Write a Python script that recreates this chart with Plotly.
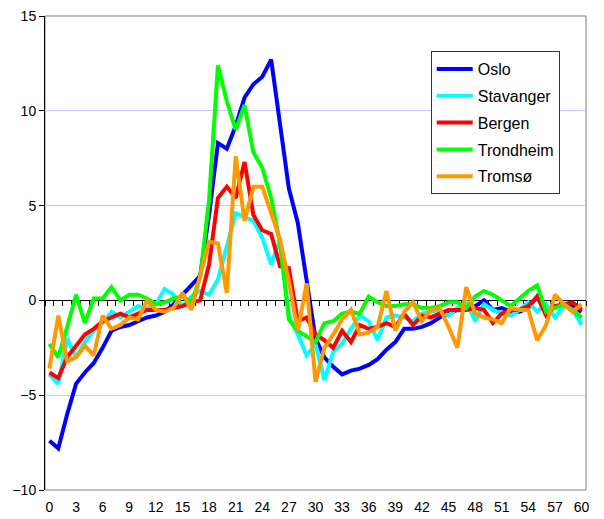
import plotly.graph_objects as go

x_vals = list(range(0, 61))
x_tick_labels = [str(v) for v in range(0, 61, 3)]
y_tick_vals = [-10, -5, 0, 5, 10, 15]

oslo = [-7.4, -7.8, -6.0, -4.4, -3.8, -3.3, -2.5, -1.6, -1.4, -1.3,
        -1.1, -0.9, -0.8, -0.6, -0.2, 0.3, 0.8, 1.3, 4.5, 8.3,
        8.0, 9.2, 10.7, 11.4, 11.8, 12.7, 9.3, 5.9, 4.1, 0.9,
        -2.0, -3.0, -3.5, -3.9, -3.7, -3.6, -3.4, -3.1, -2.6, -2.2,
        -1.5, -1.5, -1.4, -1.2, -0.9, -0.7, -0.5, -0.3, -0.3, 0.0,
        -0.5, -0.4, -0.6, -0.6, -0.4, 0.2, -0.6, -0.3, -0.3, -0.3, -0.6]

stavanger = [-3.9, -4.4, -2.0, -3.0, -2.2, -1.6, -1.2, -0.6, -0.9, -0.6,
             -0.3, -0.4, -0.2, 0.6, 0.3, -0.3, 0.2, 0.5, 0.3, 1.1,
             2.8, 4.6, 4.4, 4.2, 3.3, 1.9, 3.2, -0.8, -1.8, -2.9,
             -2.3, -4.2, -2.7, -2.3, -1.5, -0.8, -1.1, -2.1, -0.9, -0.8,
             -0.9, -1.1, -0.7, -0.6, -0.5, -0.8, -0.4, -0.1, -1.1, -0.2,
             -0.5, -0.7, -0.8, -0.5, -0.1, -0.6, -0.2, -0.9, -0.3, -0.5, -1.3]

bergen = [-3.8, -4.1, -3.0, -2.4, -1.8, -1.5, -1.1, -0.9, -0.7, -0.9,
          -0.7, -0.5, -0.5, -0.5, -0.4, -0.3, -0.1, 0.0, 1.9, 5.4,
          6.0, 5.4, 7.3, 4.5, 3.7, 3.5, 1.8, 1.7, -1.1, -0.9,
          -1.8, -2.1, -2.5, -1.6, -2.2, -1.3, -1.5, -1.4, -1.2, -1.4,
          -0.7, -1.3, -0.8, -0.9, -0.7, -0.5, -0.5, -0.5, -0.4, -0.5,
          -1.2, -0.7, -0.5, -0.5, -0.3, 0.2, -0.8, -0.3, -0.2, -0.1, -0.5]

trondheim = [-2.3, -3.0, -1.4, 0.3, -1.2, 0.1, 0.1, 0.7, 0.0, 0.3,
             0.3, 0.1, -0.2, -0.1, 0.1, 0.2, -0.1, 1.2, 5.3, 12.4,
             10.5, 9.0, 10.3, 7.8, 7.0, 5.4, 3.0, -1.0, -1.6, -1.9,
             -2.2, -1.2, -1.1, -0.7, -0.6, -0.7, 0.2, -0.1, -0.3, -0.3,
             -0.2, -0.2, -0.4, -0.4, -0.3, -0.1, -0.1, -0.4, 0.2, 0.5,
             0.3, 0.0, -0.3, 0.1, 0.5, 0.8, -0.6, -0.4, -0.2, -0.5, -0.9]

tromso = [-3.6, -0.8, -3.2, -3.0, -2.4, -2.9, -0.8, -1.5, -1.3, -0.9,
          -1.0, 0.0, -0.5, -0.6, -0.4, 0.4, -0.5, 1.3, 3.1, 3.0,
          0.4, 7.6, 4.2, 6.0, 6.0, 4.6, 3.2, 1.0, -1.6, 0.9,
          -4.3, -2.5, -1.8, -1.0, -0.5, -1.8, -1.7, -1.4, 0.5, -1.6,
          -0.6, -0.1, -1.1, -0.5, -0.4, -1.4, -2.5, 0.7, -0.7, -0.9,
          -1.0, -1.2, -0.4, -0.5, -0.5, -2.1, -1.3, 0.3, -0.2, -0.6, -0.2]

series_names = ["Oslo", "Stavanger", "Bergen", "Trondheim", "Tromsø"]
series_values = [oslo, stavanger, bergen, trondheim, tromso]
series_colors = ["#0000FF", "#00FFFF", "#FF0000", "#00FF00", "#FF9900"]

FONT = "Arial, 'Liberation Sans', sans-serif"

fig = go.Figure()
for name, vals, col in zip(series_names, series_values, series_colors):
    fig.add_trace(go.Scatter(
        x=x_vals, y=vals, mode="lines", name=name,
        line=dict(color=col, width=4),
        legendgroup=name,
    ))

# dummy trace to activate the zero-line category axis
fig.add_trace(go.Scatter(x=[None], y=[None], xaxis="x2", yaxis="y",
                         showlegend=False, hoverinfo="skip"))

boundaries = [k + 0.5 for k in range(-1, 61)]

fig.update_layout(
    width=604, height=519,
    margin=dict(l=45, r=18, t=16, b=29, autoexpand=False),
    paper_bgcolor="white", plot_bgcolor="white",
    font=dict(family=FONT, size=14, color="black"),
    showlegend=True,
    legend=dict(
        x=0.713, y=0.926, xanchor="left", yanchor="top",
        bgcolor="white", bordercolor="#333333", borderwidth=1,
        font=dict(family=FONT, size=16, color="black"),
        tracegroupgap=3, itemwidth=36,
    ),
    xaxis=dict(
        range=[-0.5, 60.5],
        tickvals=list(range(0, 61, 3)),
        ticktext=x_tick_labels,
        showgrid=False, zeroline=False, showline=False,
        ticks="", ticklabelstandoff=7,
        tickfont=dict(family=FONT, size=14),
        automargin=False,
    ),
    xaxis2=dict(
        overlaying="x", anchor="free", position=0.4, side="bottom",
        range=[-0.5, 60.5],
        tickvals=boundaries,
        showticklabels=False,
        ticks="outside", ticklen=5, tickcolor="black", tickwidth=1,
        showline=True, linecolor="black", linewidth=1,
        showgrid=False, zeroline=False,
        layer="below traces", automargin=False,
    ),
    yaxis=dict(
        range=[-10, 15],
        tickvals=y_tick_vals,
        showgrid=True, gridcolor="#c8c8f8", gridwidth=1,
        zeroline=False,
        showline=True, linecolor="black", linewidth=1,
        ticks="outside", ticklen=5, tickcolor="black",
        tickfont=dict(family=FONT, size=14),
        layer="below traces", automargin=False,
    ),
    shapes=[dict(type="rect", xref="paper", yref="paper", x0=0, y0=0, x1=1, y1=1,
                 line=dict(color="#808080", width=1), layer="below")],
)

fig.write_html("out.html",
               config={"displayModeBar": False},
               post_script="document.body.style.margin='0px';document.body.style.overflow='hidden';")
